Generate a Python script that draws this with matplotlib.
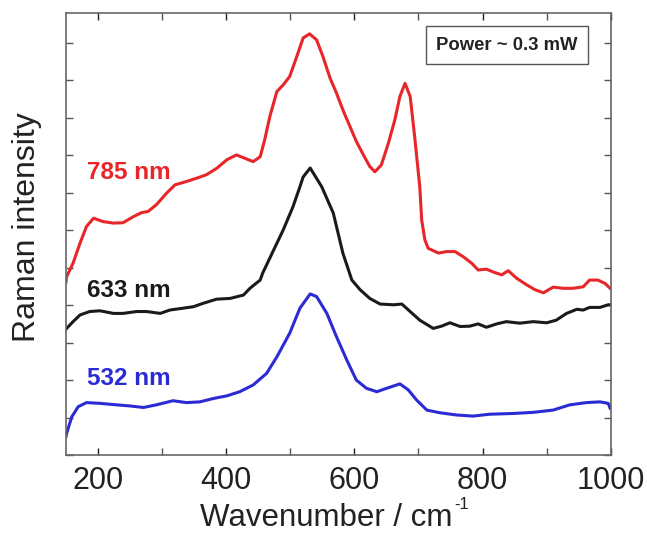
import numpy as np
import matplotlib
matplotlib.use("Agg")
import matplotlib.pyplot as plt
from matplotlib.ticker import MultipleLocator, NullFormatter

plt.rcParams['font.family'] = ['Liberation Sans', 'DejaVu Sans']
plt.rcParams['axes.unicode_minus'] = False

# Data (wavenumber in cm^-1, offset intensity in arbitrary units)
wn_785 = [150, 151, 161, 172, 182, 193, 208, 224, 239, 255, 268, 278, 291, 307, 320, 338,
          354, 369, 385, 401, 416, 429, 442, 453, 460, 468, 479, 489, 499, 510, 520, 530,
          541, 551, 562, 572, 583, 593, 603, 614, 624, 632, 642, 653, 663, 671, 679, 687,
          694, 702, 705, 710, 715, 731, 744, 757, 770, 783, 793, 806, 819, 830, 840, 853,
          869, 882, 895, 910, 926, 941, 957, 967, 980, 991, 999]
int_785 = [4.62, 4.76, 5.12, 5.66, 6.10, 6.32, 6.23, 6.19, 6.20, 6.36, 6.47, 6.50, 6.68,
           6.99, 7.21, 7.30, 7.39, 7.48, 7.65, 7.88, 8.01, 7.92, 7.83, 7.96, 8.41, 9.03,
           9.70, 9.88, 10.10, 10.63, 11.13, 11.24, 11.08, 10.63, 10.06, 9.66, 9.17, 8.77,
           8.37, 8.01, 7.70, 7.56, 7.74, 8.32, 8.94, 9.57, 9.92, 9.57, 8.50, 7.16, 6.27,
           5.74, 5.52, 5.39, 5.43, 5.43, 5.29, 5.12, 4.94, 4.96, 4.87, 4.81, 4.92, 4.72,
           4.54, 4.41, 4.33, 4.48, 4.45, 4.45, 4.49, 4.67, 4.67, 4.58, 4.45]

wn_633 = [150, 151, 161, 172, 187, 203, 224, 239, 260, 276, 297, 312, 333, 349, 364, 385,
          406, 427, 437, 453, 457, 489, 504, 515, 520, 531, 549, 567, 582, 596, 609, 624,
          640, 661, 674, 687, 702, 723, 736, 749, 765, 780, 793, 806, 822, 837, 858, 879,
          900, 915, 931, 947, 957, 967, 983, 996, 1000]
int_633 = [3.36, 3.38, 3.56, 3.74, 3.83, 3.85, 3.78, 3.78, 3.83, 3.83, 3.78, 3.87, 3.92,
           3.96, 4.05, 4.16, 4.18, 4.27, 4.45, 4.67, 4.86, 6.01, 6.62, 7.16, 7.42, 7.66,
           7.16, 6.46, 5.39, 4.67, 4.41, 4.18, 4.03, 4.01, 4.03, 3.83, 3.60, 3.38, 3.44,
           3.53, 3.43, 3.44, 3.50, 3.41, 3.50, 3.56, 3.52, 3.56, 3.53, 3.60, 3.78, 3.89,
           3.87, 3.94, 3.94, 4.01, 4.01]

wn_532 = [150, 151, 159, 169, 182, 203, 229, 250, 271, 291, 317, 338, 359, 380, 401, 421,
          442, 463, 479, 499, 515, 531, 541, 557, 572, 588, 603, 619, 635, 650, 671, 684,
          697, 713, 733, 759, 785, 811, 848, 879, 910, 936, 962, 983, 996, 999]
int_532 = [0.50, 0.58, 1.02, 1.29, 1.40, 1.38, 1.34, 1.31, 1.27, 1.34, 1.45, 1.40, 1.42,
           1.51, 1.58, 1.69, 1.87, 2.18, 2.62, 3.25, 3.92, 4.30, 4.23, 3.78, 3.16, 2.54,
           2.00, 1.78, 1.69, 1.78, 1.90, 1.74, 1.47, 1.20, 1.13, 1.07, 1.04, 1.09, 1.11,
           1.14, 1.20, 1.34, 1.40, 1.42, 1.38, 1.25]

series_labels = ["785 nm", "633 nm", "532 nm"]
series_colors = ["#e8262a", "#1a1a1a", "#2b2bd6"]
xtick_vals = [200, 400, 600, 800, 1000]

fig = plt.figure(figsize=(6.47, 5.36), dpi=100)
ax = fig.add_axes([0.102, 0.151, 0.842, 0.825])

ax.plot(wn_785, int_785, color=series_colors[0], lw=2.2, solid_joinstyle='round')
ax.plot(wn_633, int_633, color=series_colors[1], lw=2.2, solid_joinstyle='round')
ax.plot(wn_532, int_532, color=series_colors[2], lw=2.2, solid_joinstyle='round')

ax.set_xlim(150, 1000)
ax.set_ylim(0, 11.8)
ax.set_xticks(xtick_vals)
ax.xaxis.set_minor_locator(MultipleLocator(100))
ax.xaxis.set_minor_formatter(NullFormatter())
ax.yaxis.set_major_locator(MultipleLocator(1))
ax.set_yticklabels([])
ax.tick_params(axis='both', which='both', direction='in', top=True, right=True,
               length=5, width=1, color='#555555')
ax.tick_params(axis='y', which='both', left=True, labelleft=False)
ax.tick_params(axis='x', labelsize=22, colors='#222222', pad=8)
for sp in ax.spines.values():
    sp.set_color('#666666')
    sp.set_linewidth(1.2)

ax.set_xlabel("Wavenumber / cm", fontsize=22.5, color='#222222')
ax.xaxis.set_label_coords(0.478, -0.108)
ax.annotate("-1", xy=(1, 1), xycoords=ax.xaxis.label, xytext=(1, 4),
            textcoords='offset points', ha='left', va='top', fontsize=12,
            color='#222222')
ax.set_ylabel("Raman intensity", fontsize=23, color='#222222')
ax.yaxis.set_label_coords(-0.044, 0.516)

ax.text(183, 7.55, series_labels[0], color=series_colors[0], fontsize=17.5,
        fontweight='bold', va='center')
ax.text(183, 4.4, series_labels[1], color=series_colors[1], fontsize=17.5,
        fontweight='bold', va='center')
ax.text(183, 2.05, series_labels[2], color=series_colors[2], fontsize=17.5,
        fontweight='bold', va='center')

ax.text(0.809, 0.927, "Power ~ 0.3 mW", transform=ax.transAxes, fontsize=13.3,
        fontweight='bold', color='#222222', ha='center', va='center',
        bbox=dict(boxstyle='square,pad=0.55', fc='white', ec='#555555', lw=1))

fig.savefig("out.png", dpi=100)
